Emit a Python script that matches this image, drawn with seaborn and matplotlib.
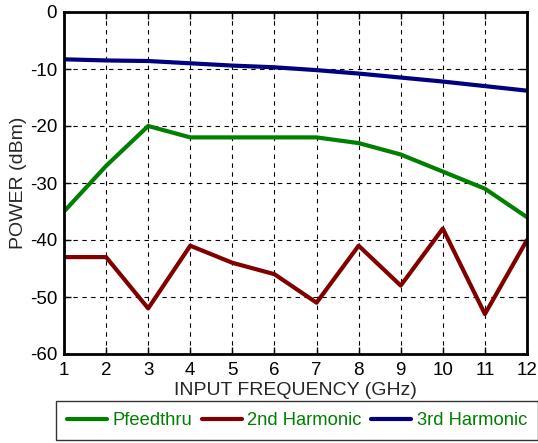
import matplotlib
matplotlib.use("Agg")
import matplotlib.pyplot as plt
import seaborn as sns
import pandas as pd

freq = [1, 2, 3, 4, 5, 6, 7, 8, 9, 10, 11, 12]
pfeedthru = [-35, -27, -20, -22, -22, -22, -22, -23, -25, -28, -31, -36]
harm2 = [-43, -43, -52, -41, -44, -46, -51, -41, -48, -38, -53, -40]
harm3 = [-8.3, -8.5, -8.6, -9.0, -9.4, -9.7, -10.2, -10.8, -11.5, -12.2, -13.0, -13.8]
series_names = ["Pfeedthru", "2nd Harmonic", "3rd Harmonic"]
colors = ["#008000", "#800000", "#000080"]

df = pd.concat([
    pd.DataFrame({"freq": freq, "power": vals, "series": name})
    for name, vals in zip(series_names, [pfeedthru, harm2, harm3])
])

sns.set_style("ticks")
plt.rcParams['font.family'] = ['Liberation Sans', 'DejaVu Sans']
plt.rcParams['axes.unicode_minus'] = False

fig = plt.figure(figsize=(5.38, 4.43), dpi=100)
ax = fig.add_axes([64/538, 1 - 354/443, (527-64)/538, (354-12)/443])

sns.lineplot(data=df, x="freq", y="power", hue="series", hue_order=series_names,
             palette=colors, linewidth=3, ax=ax, legend=False)

ax.set_xlim(1, 12)
ax.set_ylim(-60, 0)
ax.set_xticks(freq)
ax.set_yticks(range(-60, 1, 10))
ax.grid(True, linestyle=(0, (4, 4)), color="black", linewidth=0.8)
for s in ax.spines.values():
    s.set_visible(True)
    s.set_linewidth(2)
    s.set_color("black")
ax.tick_params(direction="in", length=5, width=1, labelsize=13.5, colors="black",
               top=True, right=True)
ax.tick_params(axis="x", pad=6)
ax.tick_params(axis="y", pad=5)
ax.set_xlabel("INPUT FREQUENCY (GHz)", fontsize=14, labelpad=2)
ax.set_ylabel("POWER (dBm)", fontsize=14, labelpad=2)

handles = [plt.Line2D([], [], color=c, linewidth=3) for c in colors]
leg = fig.legend(handles, series_names, loc="center",
                 bbox_to_anchor=(297/538, 1 - 420.5/443),
                 ncol=3, frameon=True, fancybox=False,
                 edgecolor="black", fontsize=13.2, handlelength=2.2,
                 borderpad=0.6, columnspacing=0.5, handletextpad=0.3)
for t in leg.get_texts():
    t.set_color("#008000")
leg.get_frame().set_linewidth(1)

fig.savefig("out.png", dpi=100)
